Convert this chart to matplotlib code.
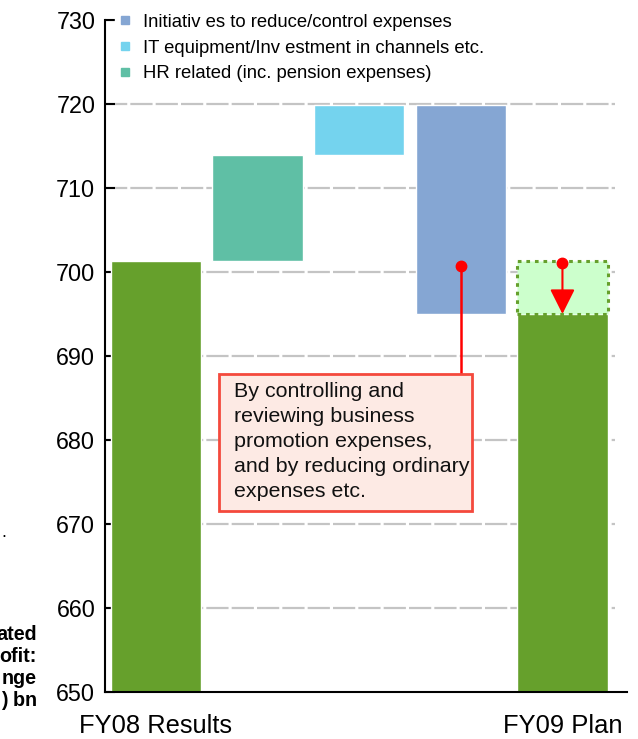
import matplotlib
matplotlib.use("Agg")
import matplotlib.pyplot as plt
from matplotlib.patches import Rectangle
from matplotlib.lines import Line2D

plt.rcParams['font.family'] = ['Liberation Sans', 'DejaVu Sans']

# ---- data (¥ bn) ----
categories = ["FY08 Results", "HR", "IT", "Initiatives", "FY09 Plan"]
tick_labels = ["FY08 Results", "", "", "", "FY09 Plan"]
fy08_result = 701.3
deltas = [12.6, 6.0, -24.9]          # HR, IT, initiatives
fy09_plan = 695.0
legend_labels = ["Initiativ es to reduce/control expenses",
                 "IT equipment/Inv estment in channels etc.",
                 "HR related (inc. pension expenses)"]
y_ticks = [650, 660, 670, 680, 690, 700, 710, 720, 730]
note_text = ("By controlling and\nreviewing business\npromotion expenses,\n"
             "and by reducing ordinary\nexpenses etc.")

GREEN = "#66A02C"
TEAL = "#5FBFA5"
SKY = "#74D3EE"
STEEL = "#85A6D3"
RED = "#FF0000"

fig = plt.figure(figsize=(6.38, 7.39), dpi=100)
ax = fig.add_axes([105/638, 1-692/739, (627-105)/638, (692-20)/739])

ymin = 650
ax.set_ylim(650, 730)
ax.set_xlim(-0.5, 4.635)

# dashed horizontal guides
for yv in y_ticks[1:-1]:
    ax.hlines(yv, -0.5, 4.52, colors="#C4C4C4", lw=1.6,
              linestyles=(0, (10, 1.4)), zorder=0)
ax.hlines(y_ticks[-1], -0.5, -0.33, colors="#C4C4C4", lw=1.6, zorder=0)

w = 0.89
# waterfall steps
starts = []
level = fy08_result
for d in deltas:
    starts.append(level)
    level += d
step_colors = [TEAL, SKY, STEEL]

ax.bar(0, fy08_result - ymin, bottom=ymin, width=w, color=GREEN,
       edgecolor="white", lw=1, zorder=2)
for i, (s, d, c) in enumerate(zip(starts, deltas, step_colors)):
    ax.bar(i + 1, d, bottom=s, width=w, color=c, edgecolor="white",
           lw=1, zorder=2)
ax.bar(4, fy09_plan - ymin, bottom=ymin, width=w, color=GREEN,
       edgecolor="white", lw=1, zorder=2)

# reduction box on the plan bar
ax.add_patch(Rectangle((4 - w/2, fy09_plan), w, fy08_result - fy09_plan,
                       facecolor="#CCFFCC", edgecolor=GREEN, lw=2.2,
                       linestyle=(0, (1.2, 1.6)), zorder=3))

# arrow showing the decrease
ax.plot([4], [fy08_result - 0.2], 'o', color=RED, ms=7.5, zorder=5)
ax.annotate("", xy=(4, fy09_plan), xytext=(4, fy08_result - 0.2),
            arrowprops=dict(arrowstyle="-|>,head_length=0.9,head_width=0.45",
                            color=RED, lw=1.5, shrinkA=0, shrinkB=0,
                            mutation_scale=17),
            zorder=5)

# callout for the initiatives bar
box_left, box_right = 0.62, 3.11
box_bottom, box_top = 671.6, 687.9
ax.plot([3, 3], [700.7, box_top], color=RED, lw=1.8, zorder=5)
ax.plot([3], [700.7], 'o', color=RED, ms=7.5, zorder=6)
ax.add_patch(Rectangle((box_left, box_bottom), box_right - box_left,
                       box_top - box_bottom, facecolor="#FDEAE4",
                       edgecolor="#F4493C", lw=2, zorder=6))
ax.text(0.765, (box_top + box_bottom)/2 + 0.1, note_text, ha="left",
        va="center", fontsize=15.4, linespacing=1.4, color="#111111",
        zorder=7)

# axes styling
for sp in ["top", "right"]:
    ax.spines[sp].set_visible(False)
ax.spines["left"].set_linewidth(1.5)
ax.spines["bottom"].set_linewidth(1.5)
ax.set_yticks(y_ticks)
ax.tick_params(axis="y", direction="in", length=7, width=1.5, pad=7,
               labelsize=16.8)
ax.set_xticks(range(len(categories)))
ax.set_xticklabels(tick_labels)
ax.tick_params(axis="x", length=0, pad=16, labelsize=18.4)

# legend
handles = [Line2D([], [], marker="s", ls="", color=c, ms=6)
           for c in [STEEL, SKY, TEAL]]
leg = ax.legend(handles, legend_labels, loc="upper left",
                bbox_to_anchor=(106/638, 1-1/739),
                bbox_transform=fig.transFigure, fontsize=13.3,
                frameon=True, framealpha=1, edgecolor="white",
                facecolor="white", handlelength=0.7, handletextpad=0.6,
                labelspacing=0.47, borderpad=0.2, fancybox=False)
leg.set_zorder(4)

# side labels running in from the neighbouring panel
fig.text(37/638, 1-668/739, "ated\nofit:\nnge\n) bn", ha="right",
         va="center", fontsize=14.2, fontweight="bold", linespacing=1.2,
         multialignment="right")
fig.text(6/638, 1-537/739, ".", ha="right", va="baseline", fontsize=13)

fig.savefig("out.png", dpi=100)
